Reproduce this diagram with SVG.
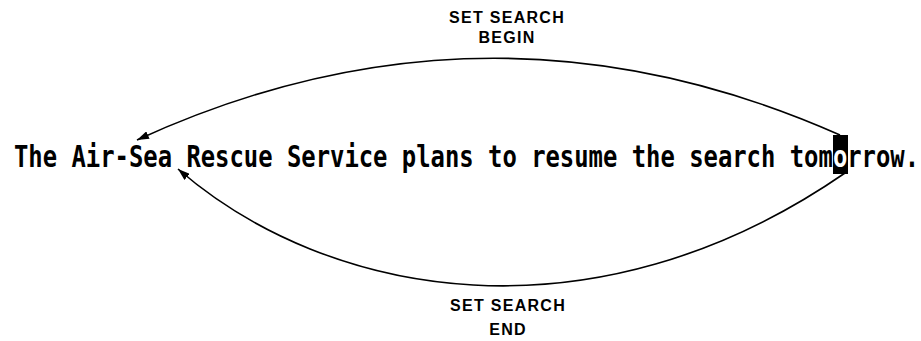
<svg xmlns="http://www.w3.org/2000/svg" width="921" height="341" viewBox="0 0 921 341">
<style>
.sent{font-family:"DejaVu Sans Mono",monospace;font-weight:bold;font-size:31px;fill:#000}
.lbl{font-family:"Liberation Sans",Arial,sans-serif;font-weight:bold;font-size:16px;letter-spacing:1.3px;fill:#000;text-anchor:middle}
.arc{fill:none;stroke:#000;stroke-width:1.6}
</style>
<defs>
<marker id="ah" viewBox="0 0 12 8" refX="12" refY="4" markerWidth="12" markerHeight="8" markerUnits="userSpaceOnUse" orient="auto">
<path d="M0,0 L12,4 L0,8 Z" fill="#000"/>
</marker>
</defs>
<rect width="921" height="341" fill="#fff"/>
<g id="sentence">
<text class="sent" x="14" y="167" textLength="905" lengthAdjust="spacingAndGlyphs">The Air-Sea Rescue Service plans to resume the search tomorrow.</text>
<rect x="833" y="135" width="15" height="39" fill="#000"/>
<text class="sent" transform="translate(833.1,167) scale(0.770,1)" x="0" y="0" style="fill:#fff">o</text>
</g>
<g id="connectors">
<path class="arc" d="M840,135 Q488,-21 137,140" marker-end="url(#ah)"/>
<path class="arc" d="M845,173 C593,347 328,299 178,169" marker-end="url(#ah)"/>
</g>
<g id="label-begin">
<text class="lbl" x="507" y="23">SET SEARCH</text>
<text class="lbl" x="507" y="43">BEGIN</text>
</g>
<g id="label-end">
<text class="lbl" x="508" y="311">SET SEARCH</text>
<text class="lbl" x="508" y="335">END</text>
</g>
</svg>
